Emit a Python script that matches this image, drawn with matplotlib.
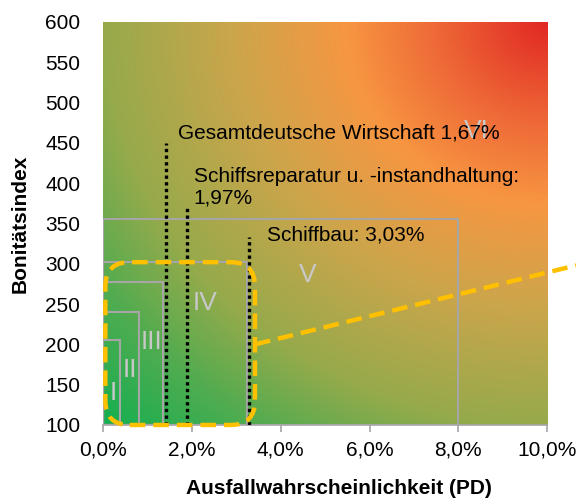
import numpy as np
import matplotlib.pyplot as plt
from matplotlib.colors import LinearSegmentedColormap
from matplotlib.patches import Rectangle, FancyBboxPatch

plt.rcParams['font.family'] = ['Liberation Sans', 'DejaVu Sans']

# Klassen-Rechtecke (PD-Obergrenze in %, Bonitätsindex-Obergrenze)
klassen = ['I', 'II', 'III', 'IV', 'V', 'VI']
pd_grenze = [0.38, 0.81, 1.35, 3.24, 8.0, 10.0]
index_grenze = [205, 240, 277, 302, 356, 600]
label_x = [0.22, 0.60, 1.10, 2.30, 4.60, 8.40]
label_y = [140, 168, 203, 251, 286, 465]

# Branchen (Position der gepunkteten Linien)
branchen = ['Gesamtdeutsche Wirtschaft 1,67%',
            'Schiffsreparatur u. -instandhaltung:\n1,97%',
            'Schiffbau: 3,03%']
branchen_x = [1.42, 1.89, 3.29]
branchen_top = [450, 370, 333]
text_x = [1.69, 2.04, 3.69]
text_y = [462, 395, 336]

# Hervorhebung
box_x = [0.05, 3.42]
box_y = [100, 302]
pfeil_x = [3.42, 10.65]
pfeil_y = [200, 298]

fig = plt.figure(figsize=(5.76, 4.98), dpi=100)
ax = fig.add_axes([0.179, 0.1466, 0.771, 0.8094])

# Hintergrund-Verlauf: rot oben rechts -> grün unten links (radial)
stops = [0, 0.25, 0.45, 0.7, 1.0, 1.2, 1.414]
farben = [(225, 40, 35), (238, 105, 55), (247, 150, 65), (205, 165, 75),
          (150, 170, 75), (80, 172, 80), (20, 175, 80)]
cmap = LinearSegmentedColormap.from_list('bg', [
    (s / 1.414, tuple(c / 255 for c in f)) for s, f in zip(stops, farben)])
u, v = np.meshgrid(np.linspace(0, 1, 300), np.linspace(0, 1, 300))
d = np.hypot(1 - u, 1 - v)
ax.imshow(d, cmap=cmap, vmin=0, vmax=1.414, origin='lower',
          extent=[0, 10, 100, 600], aspect='auto', zorder=0,
          interpolation='bilinear')

for k, px, iy, lx, ly in zip(klassen, pd_grenze, index_grenze, label_x, label_y):
    if k != 'VI':
        ax.add_patch(Rectangle((0, 100), px, iy - 100, fill=False,
                               edgecolor='#a6a6a6', lw=1.5, zorder=2))
    ax.text(lx, ly, k, color='#c8c8c8', fontsize=19, ha='center',
            va='center', zorder=3)

for bx, bt, tx, ty, name in zip(branchen_x, branchen_top, text_x, text_y, branchen):
    ax.plot([bx, bx], [100, bt], color='black', lw=2.4,
            linestyle=(0, (1, 1)), zorder=4)
    ax.text(tx, ty, name, fontsize=15, ha='left', va='center',
            linespacing=1.15, zorder=5)

# abgerundetes Rechteck
box = FancyBboxPatch((box_x[0], box_y[0]), box_x[1] - box_x[0], box_y[1] - box_y[0],
                     boxstyle='round,pad=0,rounding_size=0.55',
                     mutation_aspect=55, fill=False, edgecolor='#ffc000',
                     lw=3.2, linestyle=(0, (3.5, 1.8)), zorder=6, clip_on=False)
ax.add_patch(box)
ax.plot(pfeil_x, pfeil_y, color='#ffc000', lw=3.2, linestyle=(0, (3.5, 1.8)),
        zorder=6, clip_on=False)

ax.set_xlim(0, 10)
ax.set_ylim(100, 600)
ax.set_xticks([0, 2, 4, 6, 8, 10])
ax.set_xticklabels(['0,0%', '2,0%', '4,0%', '6,0%', '8,0%', '10,0%'])
ax.set_yticks(range(100, 601, 50))
ax.tick_params(axis='x', colors='#a6a6a6', labelcolor='black', labelsize=15,
               length=5, width=1.2, pad=6)
ax.tick_params(axis='y', length=0, labelsize=15, pad=16.5)
for s in ['top', 'right', 'left']:
    ax.spines[s].set_visible(False)
ax.spines['bottom'].set_color('#a6a6a6')
ax.spines['bottom'].set_linewidth(1.2)

ax.set_xlabel('Ausfallwahrscheinlichkeit (PD)', fontsize=15, fontweight='bold')
ax.set_ylabel('Bonitätsindex', fontsize=15, fontweight='bold')
ax.xaxis.set_label_coords(0.53, -0.135)
ax.yaxis.set_label_coords(-0.187, 0.5)
ax.yaxis.label.set_va('center')

fig.savefig('out.png', dpi=100)
